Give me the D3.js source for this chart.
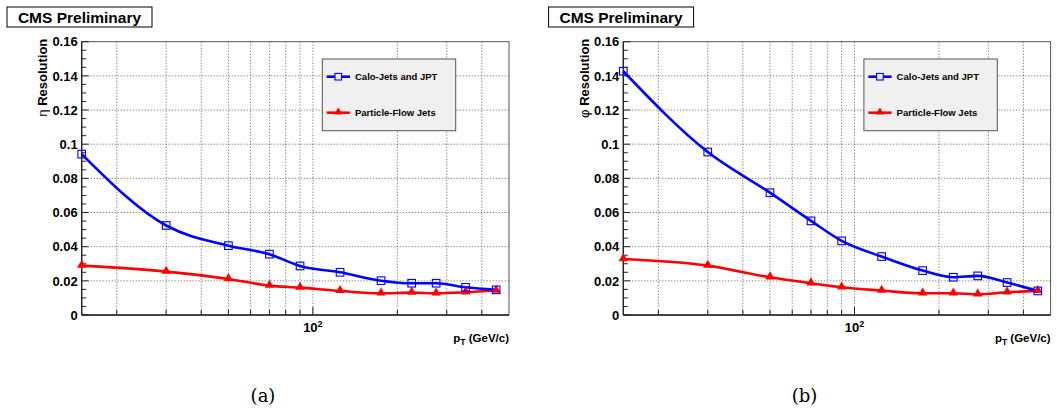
<!DOCTYPE html>
<html>
<head>
<meta charset="utf-8">
<script src="https://cdn.jsdelivr.net/npm/d3@7"></script>
<style>
  body { margin: 0; background: #fff; }
  svg text { font-family: "Liberation Sans", Arial, sans-serif; font-weight: bold; fill: #000; }
</style>
</head>
<body>
<div id="root"></div>
<script>
// pT bins (GeV/c) and resolutions
var ptBins = [15, 30, 50, 70, 90, 125, 175, 225, 275, 350, 450];
var etaCalo = [0.0942, 0.0524, 0.0406, 0.0356, 0.0287, 0.0250, 0.0201, 0.0186, 0.0186, 0.0162, 0.0147];
var etaPF   = [0.0289, 0.0254, 0.0211, 0.0172, 0.0160, 0.0141, 0.0127, 0.0131, 0.0127, 0.0133, 0.0143];
var phiCalo = [0.1427, 0.0954, 0.0716, 0.0551, 0.0434, 0.0342, 0.0260, 0.0221, 0.0229, 0.0190, 0.0141];
var phiPF   = [0.0328, 0.0289, 0.0221, 0.0186, 0.0162, 0.0143, 0.0127, 0.0127, 0.0121, 0.0133, 0.0141];

var xDomain = [15, 500];
var yDomain = [0, 0.16];
var xGrid = [20, 30, 40, 50, 60, 70, 80, 90, 100, 200, 300, 400];
var seriesNames = ["Calo-Jets and JPT", "Particle-Flow Jets"];
var panelLetters = ["(a)", "(b)"];
var yTitles = ["\u03b7", "\u03c6"];

var W = 1057, H = 414;
var svg = d3.select("#root").append("svg")
    .attr("width", W)
    .attr("height", H);

function drawPanel(ox, calo, pf, yTitle, letter)
{
  var left = ox + 81.7, right = ox + 509, top = 41.7, bottom = 315;

  var x = d3.scaleLog().domain(xDomain).range([left, right]);
  var y = d3.scaleLinear().domain(yDomain).range([bottom, top]);

  var g = svg.append("g");

  // CMS Preliminary box
  g.append("rect")
    .attr("x", ox + 7).attr("y", 7)
    .attr("width", 145).attr("height", 20)
    .attr("fill", "#fff").attr("stroke", "#000").attr("stroke-width", 1);
  g.append("text")
    .attr("x", ox + 79.5).attr("y", 22.5)
    .attr("text-anchor", "middle")
    .style("font-size", "15.5px")
    .text("CMS Preliminary");

  // grid
  g.append("g").selectAll("line")
    .data(y.ticks(8).filter(function(d) { return d > 0 && d < 0.16; }))
    .enter().append("line")
      .attr("x1", left).attr("x2", right)
      .attr("y1", function(d) { return y(d); })
      .attr("y2", function(d) { return y(d); })
      .attr("stroke", "#333").attr("stroke-width", 0.8)
      .attr("stroke-dasharray", "1,2");
  g.append("g").selectAll("line")
    .data(xGrid)
    .enter().append("line")
      .attr("x1", function(d) { return x(d); })
      .attr("x2", function(d) { return x(d); })
      .attr("y1", top).attr("y2", bottom)
      .attr("stroke", "#333").attr("stroke-width", 0.8)
      .attr("stroke-dasharray", "1,2");

  // frame
  g.append("rect")
    .attr("x", left).attr("y", top)
    .attr("width", right - left).attr("height", bottom - top)
    .attr("fill", "none").attr("stroke", "#555").attr("stroke-width", 1);
  g.append("line")
    .attr("x1", left).attr("x2", left).attr("y1", top).attr("y2", bottom)
    .attr("stroke", "#222").attr("stroke-width", 1.3);
  g.append("line")
    .attr("x1", left).attr("x2", right).attr("y1", bottom).attr("y2", bottom)
    .attr("stroke", "#222").attr("stroke-width", 1.3);

  // y ticks (inside), minor every 0.005
  var minor = d3.range(0, 33).map(function(i) { return i * 0.005; });
  g.append("g").selectAll("line")
    .data(minor)
    .enter().append("line")
      .attr("x1", left)
      .attr("x2", function(d, i) { return left + (i % 4 == 0 ? 7 : 4.5); })
      .attr("y1", function(d) { return y(d); })
      .attr("y2", function(d) { return y(d); })
      .attr("stroke", "#222").attr("stroke-width", 1);

  g.append("g").selectAll("text")
    .data(y.ticks(8))
    .enter().append("text")
      .attr("x", left - 4)
      .attr("y", function(d) { return y(d) + 4.7; })
      .attr("text-anchor", "end")
      .style("font-size", "13px")
      .text(d3.format("~g"));

  // x ticks (inside, upward)
  g.append("g").selectAll("line")
    .data(xGrid)
    .enter().append("line")
      .attr("x1", function(d) { return x(d); })
      .attr("x2", function(d) { return x(d); })
      .attr("y1", bottom)
      .attr("y2", function(d) { return bottom - (d == 100 ? 8 : 5); })
      .attr("stroke", "#222").attr("stroke-width", 1);

  var lab = g.append("text")
    .attr("x", x(100)).attr("y", bottom + 17)
    .attr("text-anchor", "middle")
    .style("font-size", "13px");
  lab.append("tspan").text("10");
  lab.append("tspan").attr("dy", -5).style("font-size", "9px").text("2");

  // axis titles
  var xt = g.append("text")
    .attr("x", right).attr("y", bottom + 27)
    .attr("text-anchor", "end")
    .style("font-size", "11.5px");
  xt.append("tspan").text("p");
  xt.append("tspan").attr("dy", 3).style("font-size", "8.5px").text("T");
  xt.append("tspan").attr("dy", -3).text(" (GeV/c)");

  var yt = g.append("text")
    .attr("transform", "translate(" + (ox + 47) + "," + (top - 3) + ") rotate(-90)")
    .attr("text-anchor", "end")
    .style("font-size", "13px");
  yt.append("tspan").style("font-weight", "normal").text(yTitle + " ");
  yt.append("tspan").text("Resolution");

  // curves (smooth spline through the points)
  var line = d3.line()
    .x(function(d) { return x(d[0]); })
    .y(function(d) { return y(d[1]); })
    .curve(d3.curveMonotoneX);

  var caloPts = ptBins.map(function(p, i) { return [p, calo[i]]; });
  var pfPts = ptBins.map(function(p, i) { return [p, pf[i]]; });

  g.append("path").attr("d", line(pfPts))
    .attr("fill", "none").attr("stroke", "#ff0000").attr("stroke-width", 2.6);
  g.append("path").attr("d", line(caloPts))
    .attr("fill", "none").attr("stroke", "#0000ff").attr("stroke-width", 2.6);

  var tri = d3.symbol().type(d3.symbolTriangle).size(38);
  g.append("g").selectAll("path")
    .data(pfPts)
    .enter().append("path")
      .attr("d", tri)
      .attr("transform", function(d) { return "translate(" + x(d[0]) + "," + (y(d[1]) - 0.5) + ")"; })
      .attr("fill", "#ff0000");

  g.append("g").selectAll("rect")
    .data(caloPts)
    .enter().append("rect")
      .attr("x", function(d) { return x(d[0]) - 3.8; })
      .attr("y", function(d) { return y(d[1]) - 3.8; })
      .attr("width", 7.6).attr("height", 7.6)
      .attr("fill", "none").attr("stroke", "#0000ff").attr("stroke-width", 1.1);

  // legend
  var lx = ox + 322.3, ly = 59;
  var lg = g.append("g");
  lg.append("rect")
    .attr("x", lx).attr("y", ly)
    .attr("width", 133.4).attr("height", 71.7)
    .attr("fill", "#f0f0f0").attr("stroke", "#555").attr("stroke-width", 1);
  var rows = [ly + 17.7, ly + 53.7];
  var colors = ["#0000ff", "#ff0000"];
  seriesNames.forEach(function(name, i) {
    lg.append("line")
      .attr("x1", lx + 4.4).attr("x2", lx + 27.7)
      .attr("y1", rows[i]).attr("y2", rows[i])
      .attr("stroke", colors[i]).attr("stroke-width", 2.6);
    if (i == 0)
    {
      lg.append("rect")
        .attr("x", lx + 16 - 3.3).attr("y", rows[i] - 3.3)
        .attr("width", 6.6).attr("height", 6.6)
        .attr("fill", "#f0f0f0").attr("stroke", "#0000ff").attr("stroke-width", 1.1);
    }
    else
    {
      lg.append("path")
        .attr("d", d3.symbol().type(d3.symbolTriangle).size(30))
        .attr("transform", "translate(" + (lx + 16) + "," + (rows[i] - 0.5) + ")")
        .attr("fill", "#ff0000");
    }
    lg.append("text")
      .attr("x", lx + 32.7).attr("y", rows[i] + 3.5)
      .style("font-size", "9.5px")
      .text(name);
  });

  // panel letter
  svg.append("text")
    .attr("x", ox + 263).attr("y", 402)
    .attr("text-anchor", "middle")
    .style("font-family", "'DejaVu Serif', 'Liberation Serif', serif")
    .style("font-weight", "normal")
    .style("font-size", "18px")
    .text(letter);
}

drawPanel(0, etaCalo, etaPF, yTitles[0], panelLetters[0]);
drawPanel(541.6, phiCalo, phiPF, yTitles[1], panelLetters[1]);
</script>
</body>
</html>
